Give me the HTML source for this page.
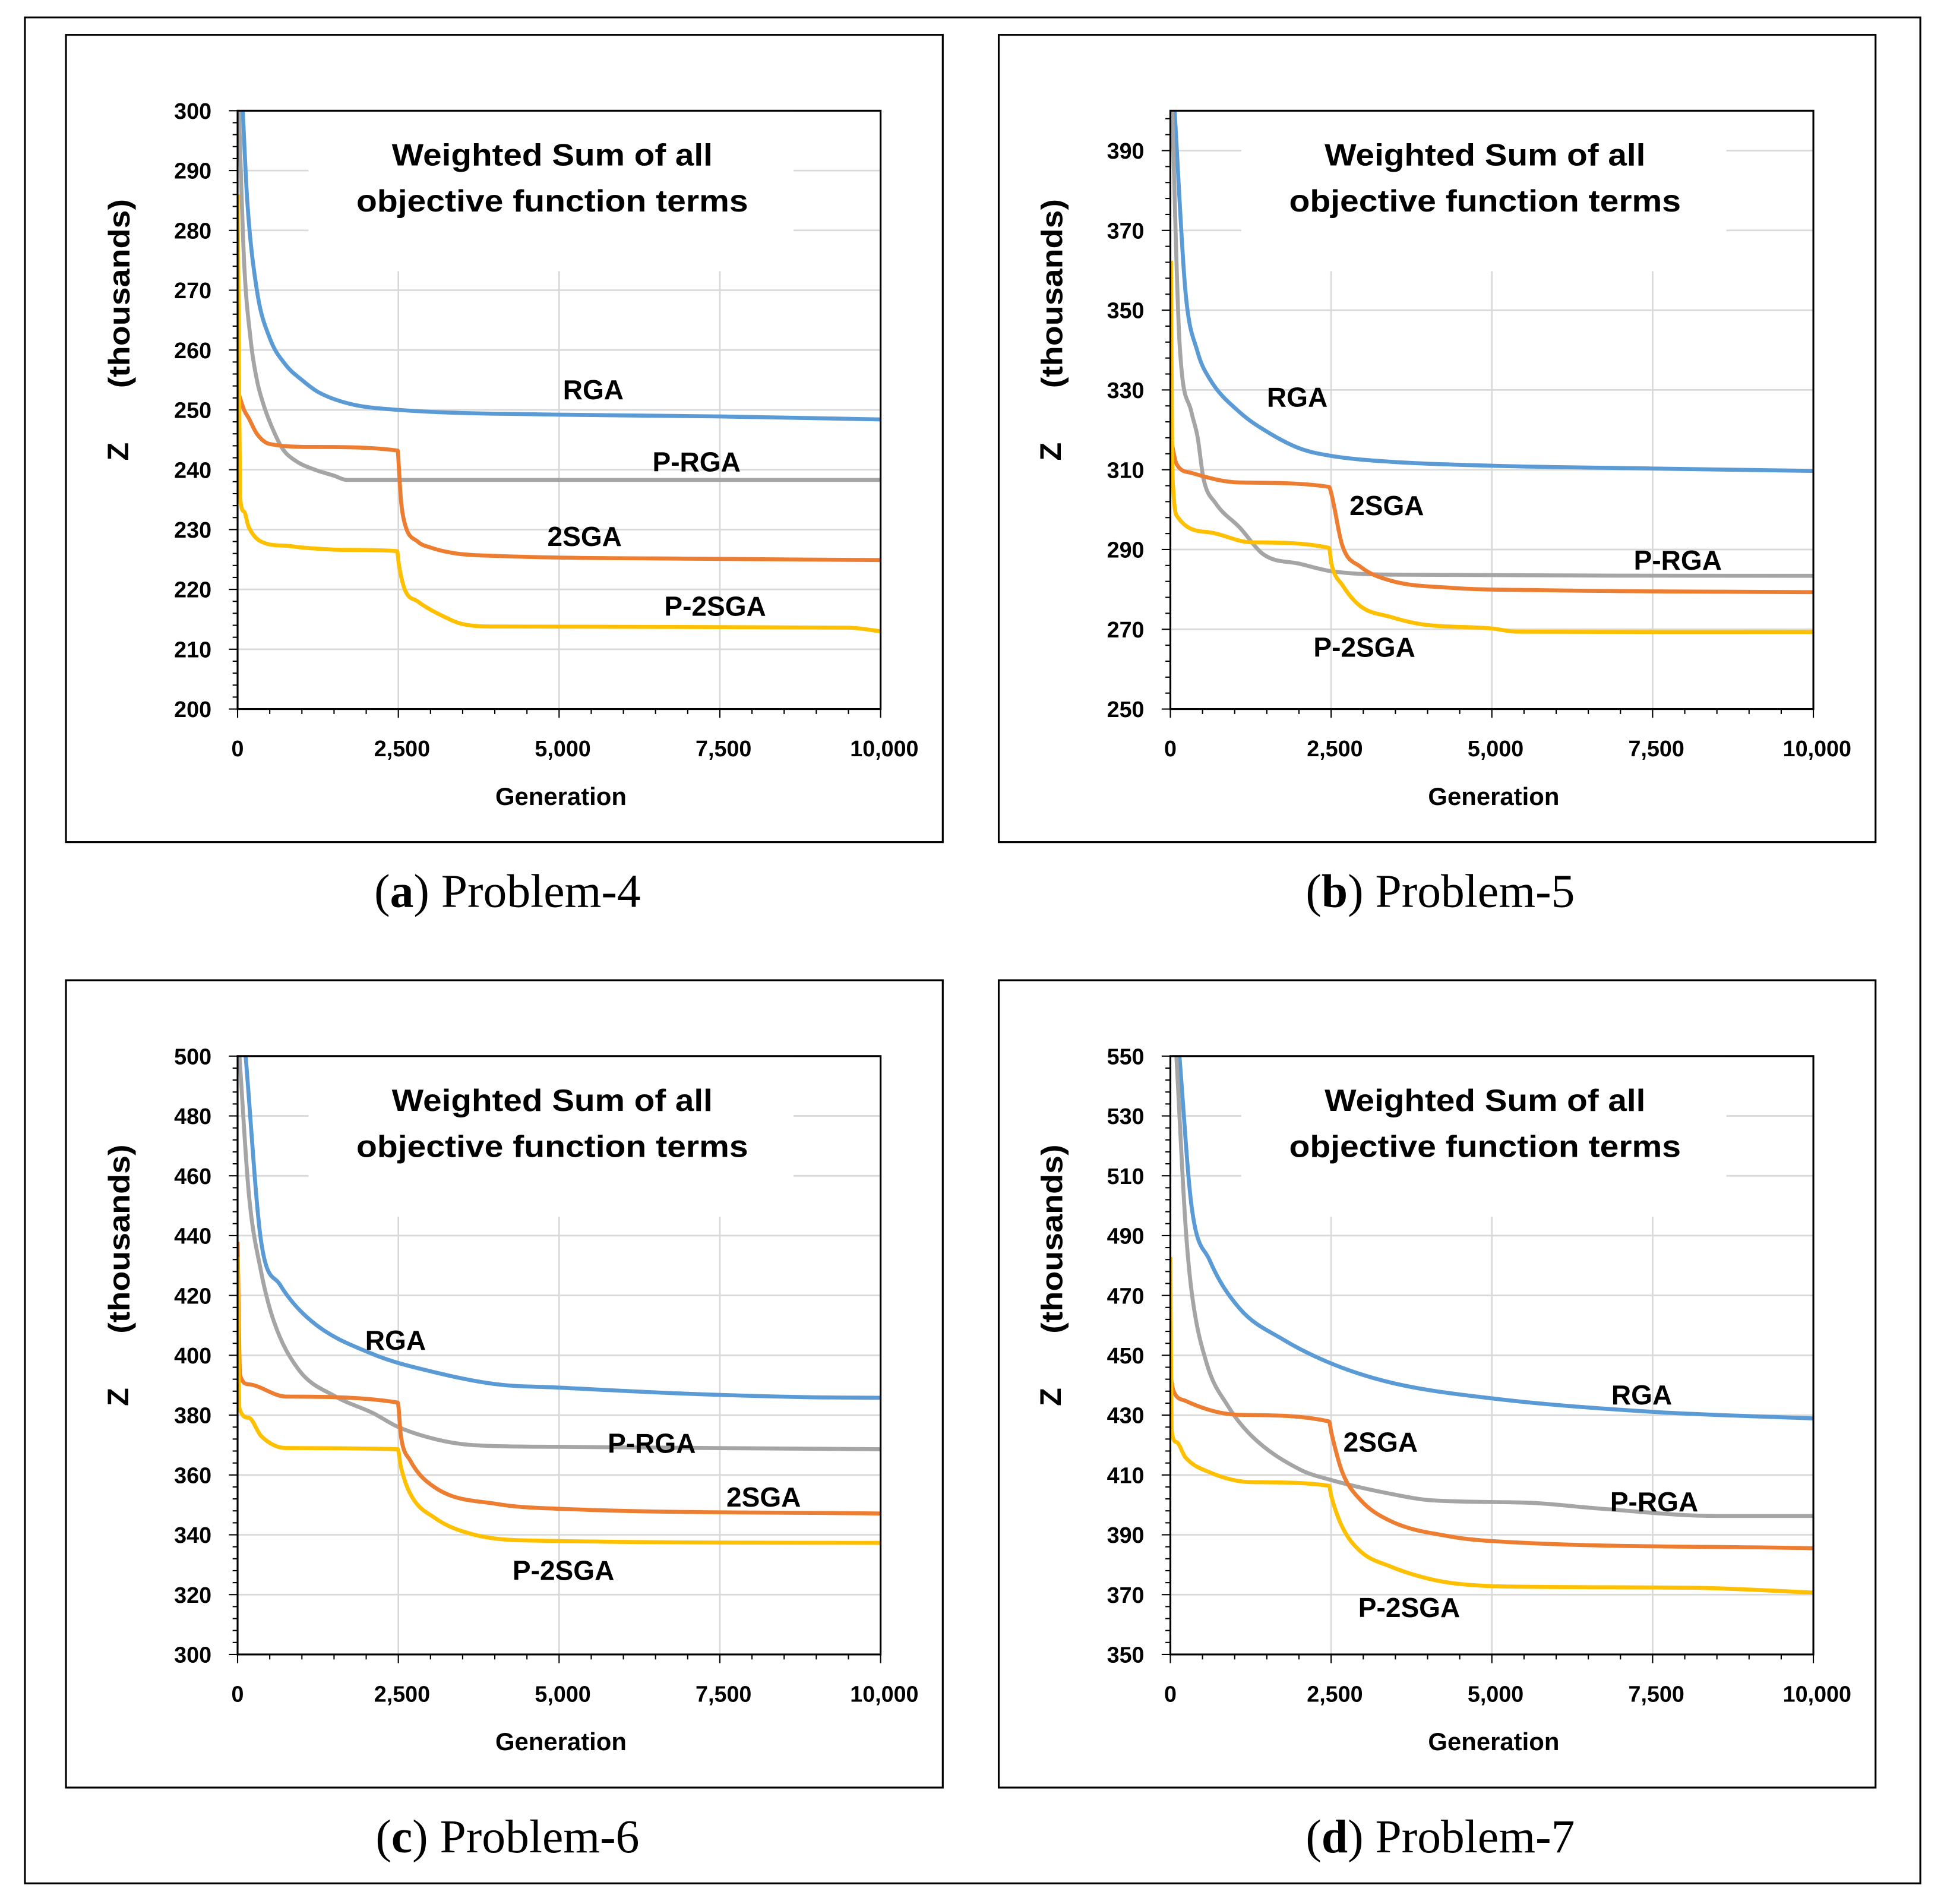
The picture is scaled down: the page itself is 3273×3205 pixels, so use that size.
<!DOCTYPE html>
<html><head><meta charset="utf-8"><style>html,body{margin:0;padding:0;background:#fff}svg{display:block}</style></head>
<body>
<svg id="fig" xmlns="http://www.w3.org/2000/svg" width="3273" height="3205" viewBox="0 0 1563 1530.6">
<rect x="20" y="14" width="1524" height="1500" fill="#fff" stroke="#000" stroke-width="1.5"/>
</svg>
<script>
// ---- Panel (a) Problem-4 ----
const p4Yticks = [200,210,220,230,240,250,260,270,280,290,300];
const p4RGAx = [80,150,300,500,750,1000,1250,1750,2500,5000,7500,10000];
const p4RGAy = [300,285,270,262,257.5,255,253,251,250,249.2,248.9,248.4];
const p4PRGAx = [20,100,200,300,400,500,700,900,1200,1500,1700,10000];
const p4PRGAy = [300,275,262,255,251,248,243.5,241.5,240,239,238.3,238.3];
const p42SGAx = [20,100,174,300,500,1200,2490,2510,2540,2600,2800,3000,3400,4000,7500,10000];
const p42SGAy = [252.6,250,248.6,246,244.3,243.8,243.2,240,235,231,228,227,226,225.6,225.1,224.9];
const p4P2SGAx = [0,20,39,100,174,463,750,1000,1700,2480,2510,2600,2800,3200,3500,4000,9500,10000];
const p4P2SGAy = [286,260,235.4,233,230.4,227.6,227.3,227,226.6,226.4,224,220,218,215.5,214.2,213.8,213.6,213];
// ---- Panel (b) Problem-5 ----
const p5Yticks = [250,270,290,310,330,350,370,390];
const p5RGAx = [66,234,422,610,1079,1548,2017,2486,3424,5000,7500,10000];
const p5RGAy = [400,354.8,339.6,332.8,324.4,319.1,315.3,313.5,312,311,310.3,309.7];
const p5PRGAx = [28,140,328,422,516,704,1079,1454,2017,2486,3424,10000];
const p5PRGAy = [400,342.6,324.4,318.3,307.7,301.6,295.5,288.7,286.4,284.6,283.7,283.4];
const p52SGAx = [19,94,328,1079,2467,2505,2674,2955,3424,4362,5769,10000];
const p52SGAy = [316.8,311.5,309.2,306.8,305.7,303.9,291,285.7,282.2,280.4,279.8,279.3];
const p5P2SGAx = [9,28,47,94,610,1266,2467,2505,2674,2955,3424,3893,5000,5394,10000];
const p5P2SGAy = [362.4,313.8,304.7,298.6,294.3,291.8,290.4,286.4,281.1,275.8,273.1,271.3,270.2,269.4,269.3];
// ---- Panel (c) Problem-6 ----
const p6Yticks = [300,320,340,360,380,400,420,440,460,480,500];
const p6RGAx = [125,367,656,1139,2104,3070,4035,5000,6931,8861,10000];
const p6RGAy = [500,437.9,423.7,411.6,400.4,394.3,390.3,389.2,387.2,386,385.8];
const p6PRGAx = [29,174,367,560,946,1525,2104,2490,3070,3649,5000,10000];
const p6PRGAy = [500,454.2,427.8,411.6,395.3,386.2,380.7,376.1,372,370,369.4,368.6];
const p62SGAx = [0,39,174,753,2490,2540,2683,3070,4035,5000,10000];
const p62SGAy = [437.9,393.3,390.3,386.2,384.2,373,364.9,355.8,350.3,348.7,347.1];
const p6P2SGAx = [0,29,174,367,753,2490,2538,2683,3070,3649,4517,10000];
const p6P2SGAy = [432.9,382.2,379.1,373,369,368.6,362.9,353.8,345.6,340.2,338.1,337.3];
// ---- Panel (d) Problem-7 ----
const p7Yticks = [350,370,390,410,430,450,470,490,510,530,550];
const p7RGAx = [141,328,610,1079,1735,2486,3424,5000,7500,10000];
const p7RGAy = [550,500.1,481.8,465.6,455.5,447.4,440.9,435.6,431.1,428.9];
const p7PRGAx = [94,234,328,563,891,1266,2017,2486,3424,4081,5582,6707,8490,10000];
const p7PRGAy = [550,494,471.7,447.4,433.2,423,411.8,408.4,403.7,401.5,400.7,398.7,396.3,396.3];
const p72SGAx = [0,47,234,1079,2467,2505,2674,2955,3424,4362,5000,10000];
const p72SGAy = [443.3,438.2,434.8,430.1,427.9,424,410.9,401.7,394.6,389.4,387.9,385.5];
const p7P2SGAx = [0,19,94,234,610,1266,2467,2505,2674,2955,3424,3893,4362,5300,8115,10000];
const p7P2SGAy = [482.9,425,421,415.9,410.9,407.6,406.4,402.7,392.6,384.5,379.4,376,373.9,372.7,372.3,370.7];
const xTicks = [0,2500,5000,7500,10000];
const xTickLabels = ["0","2,500","5,000","7,500","10,000"];

const NS = "http://www.w3.org/2000/svg";
const svg = document.getElementById("fig");
function mk(tag, attrs, parent){ const e=document.createElementNS(NS,tag); for(const k in attrs) e.setAttribute(k,attrs[k]); (parent||svg).appendChild(e); return e; }
const COL = {RGA:"#5B9BD5", PRGA:"#A5A5A5", SGA2:"#ED7D31", PSGA2:"#FFC000"};

function monoPath(P){
  const n=P.length; if(n<2) return "";
  const d=[], m=[];
  for(let i=0;i<n-1;i++){ const h=P[i+1][0]-P[i][0]; d.push(h===0?0:(P[i+1][1]-P[i][1])/h); }
  m[0]=d[0]; m[n-1]=d[n-2];
  for(let i=1;i<n-1;i++){ m[i] = (d[i-1]*d[i]<=0)?0:(d[i-1]+d[i])/2; }
  for(let i=0;i<n-1;i++){
    if(d[i]===0){ m[i]=0; m[i+1]=0; continue; }
    const a=m[i]/d[i], b=m[i+1]/d[i], s=a*a+b*b;
    if(s>9){ const t=3/Math.sqrt(s); m[i]=t*a*d[i]; m[i+1]=t*b*d[i]; }
  }
  let s="M"+P[0][0].toFixed(2)+","+P[0][1].toFixed(2);
  for(let i=0;i<n-1;i++){
    const h=(P[i+1][0]-P[i][0])/3;
    s+=" C"+(P[i][0]+h).toFixed(2)+","+(P[i][1]+m[i]*h).toFixed(2)+" "+(P[i+1][0]-h).toFixed(2)+","+(P[i+1][1]-m[i+1]*h).toFixed(2)+" "+P[i+1][0].toFixed(2)+","+P[i+1][1].toFixed(2);
  }
  return s;
}

function panel(id, ox, oy, yticks, ymin, ymax, minorStep, series, labels, caption, letter){
  const g = mk("g",{});
  
  
  const box = mk("rect",{x:ox+53,y:oy+28,width:705,height:649,fill:"#fff",stroke:"#000","stroke-width":1.5},g);
  
  
  const L=ox+191, R=ox+708, T=oy+89, B=oy+570;
  const xs = v => L + (R-L)*v/10000;
  const ys = v => B - (B-T)*(v-ymin)/(ymax-ymin);
  const TB = {x1:ox+248, x2:ox+638, y2:oy+218};
  yticks.forEach(v=>{ if(v===ymin) return; const y=ys(v);
    const inTitle = y < TB.y2;
    const segs = inTitle ? [[L,TB.x1],[TB.x2,R]] : [[L,R]];
    segs.forEach(s=>{ const ln=mk("line",{x1:s[0],x2:s[1],y1:y,y2:y,stroke:"#d9d9d9","stroke-width":1.3},g);
      
       });
  });
  [2500,5000,7500].forEach(v=>{ const x=xs(v);
    const ln=mk("line",{x1:x,x2:x,y1:TB.y2,y2:B,stroke:"#d9d9d9","stroke-width":1.3},g);
    
     });
  const t1=mk("text",{x:ox+444,y:oy+133,"text-anchor":"middle","font-family":"Liberation Sans, sans-serif","font-weight":"bold","font-size":25,textLength:258,lengthAdjust:"spacingAndGlyphs"},g);
  t1.textContent="Weighted Sum of all";
  
  
  const t2=mk("text",{x:ox+444,y:oy+170,"text-anchor":"middle","font-family":"Liberation Sans, sans-serif","font-weight":"bold","font-size":25,textLength:315,lengthAdjust:"spacingAndGlyphs"},g);
  t2.textContent="objective function terms";
  
  
  const cp = mk("clipPath",{id:"clip"+id},g);
  mk("rect",{x:L,y:T,width:R-L,height:B-T},cp);
  series.forEach(s=>{
    const P = s.x.map((gx,i)=>[xs(gx), ys(s.y[i])]);
    const pl = mk("path",{d:monoPath(P),fill:"none",stroke:s.c,"stroke-width":3.2,"stroke-linejoin":"round","clip-path":"url(#clip"+id+")"},g);
    
    
  });
  const pb = mk("rect",{x:L,y:T,width:R-L,height:B-T,fill:"none",stroke:"#000","stroke-width":1.5},g);
  
  
  for(let v=ymin; v<=ymax+0.001; v+=minorStep){ const y=ys(v);
    const major = yticks.includes(Math.round(v));
    const tk=mk("line",{x1:L-(major?7:4),x2:L,y1:y,y2:y,stroke:"#000","stroke-width":1},g);
    
    
  }
  yticks.forEach(v=>{ const tl=mk("text",{x:L-21,y:ys(v)+6.5,"text-anchor":"end","font-family":"Liberation Sans, sans-serif","font-weight":"bold","font-size":18},g);
    tl.textContent=String(v);
    
     });
  for(let v=0; v<=10000; v+=500){ const x=xs(v); const major = v%2500===0;
    const tk=mk("line",{x1:x,x2:x,y1:B,y2:B+(major?7:4),stroke:"#000","stroke-width":1},g);
    
     }
  xTicks.forEach((v,i)=>{ const tl=mk("text",{x:xs(v)+(v===0?0:3),y:oy+608,"text-anchor":"middle","font-family":"Liberation Sans, sans-serif","font-weight":"bold","font-size":18},g);
    tl.textContent=xTickLabels[i];
    
     });
  const xt=mk("text",{x:ox+451,y:oy+647,"text-anchor":"middle","font-family":"Liberation Sans, sans-serif","font-weight":"bold","font-size":20},g);
  xt.textContent="Generation";
  
  
  const yt=mk("text",{x:0,y:0,transform:"translate("+(ox+104)+","+(oy+236)+") rotate(-90)","text-anchor":"middle","font-family":"Liberation Sans, sans-serif","font-weight":"bold","font-size":24,textLength:152,lengthAdjust:"spacingAndGlyphs"},g);
  yt.textContent="(thousands)";
  
  
  const yz=mk("text",{x:0,y:0,transform:"translate("+(ox+103)+","+(oy+363)+") rotate(-90)","text-anchor":"middle","font-family":"Liberation Sans, sans-serif","font-weight":"bold","font-size":24},g);
  yz.textContent="Z";
  
  
  labels.forEach(l=>{ const tx=mk("text",{x:ox+l[1],y:oy+l[2]+8,"text-anchor":"middle","font-family":"Liberation Sans, sans-serif","font-weight":"bold","font-size":22},g);
    tx.textContent=l[0];
    
     });
  const cap=mk("text",{x:ox+408,y:oy+729,"text-anchor":"middle","font-family":"Liberation Serif, serif","font-size":38},g);
  
  
  const b1=mk("tspan",{},cap); b1.textContent="(";
  const b2=mk("tspan",{"font-weight":"bold"},cap); b2.textContent=letter;
  const b3=mk("tspan",{},cap); b3.textContent=") "+caption;
}
function S(x,y,c,n){return {x:x,y:y,c:c,n:n};}
panel("a",0,0,p4Yticks,200,300,2,[S(p4RGAx,p4RGAy,COL.RGA,"rga"),S(p4PRGAx,p4PRGAy,COL.PRGA,"p-rga"),S(p42SGAx,p42SGAy,COL.SGA2,"2sga"),S(p4P2SGAx,p4P2SGAy,COL.PSGA2,"p-2sga")],
  [["RGA",477,313],["P-RGA",560,371],["2SGA",470,431],["P-2SGA",575,487]],"Problem-4","a");
panel("b",750,0,p5Yticks,250,400,4,[S(p5RGAx,p5RGAy,COL.RGA,"rga"),S(p5PRGAx,p5PRGAy,COL.PRGA,"p-rga"),S(p52SGAx,p52SGAy,COL.SGA2,"2sga"),S(p5P2SGAx,p5P2SGAy,COL.PSGA2,"p-2sga")],
  [["RGA",293,319],["2SGA",365,406],["P-RGA",599,450],["P-2SGA",347,520]],"Problem-5","b");
panel("c",0,760,p6Yticks,300,500,4,[S(p6RGAx,p6RGAy,COL.RGA,"rga"),S(p6PRGAx,p6PRGAy,COL.PRGA,"p-rga"),S(p62SGAx,p62SGAy,COL.SGA2,"2sga"),S(p6P2SGAx,p6P2SGAy,COL.PSGA2,"p-2sga")],
  [["RGA",318,317],["P-RGA",524,400],["2SGA",614,443],["P-2SGA",453,502]],"Problem-6","c");
panel("d",750,760,p7Yticks,350,550,4,[S(p7RGAx,p7RGAy,COL.RGA,"rga"),S(p7PRGAx,p7PRGAy,COL.PRGA,"p-rga"),S(p72SGAx,p72SGAy,COL.SGA2,"2sga"),S(p7P2SGAx,p7P2SGAy,COL.PSGA2,"p-2sga")],
  [["RGA",570,361],["2SGA",360,399],["P-RGA",580,447],["P-2SGA",383,532]],"Problem-7","d");
</script>
</body></html>
